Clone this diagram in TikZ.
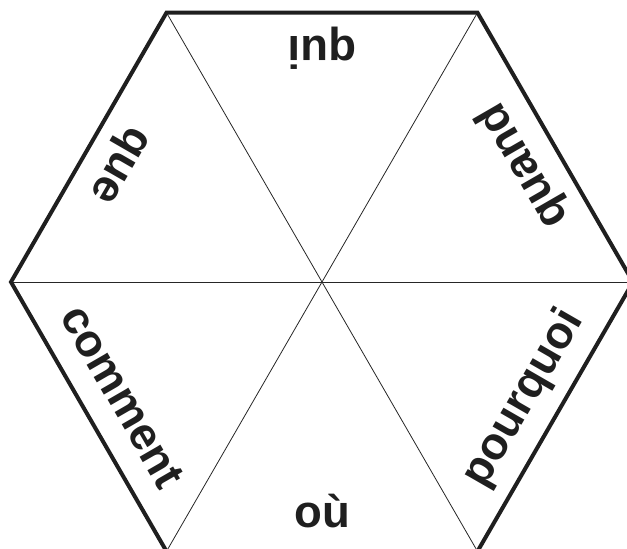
\documentclass[tikz,border=0pt]{standalone}
\usepackage{fontspec}
\setmainfont{Liberation Sans}
\usepackage{tikz}

\begin{document}
\begin{tikzpicture}[x=1pt, y=1pt,
  rim/.style={line width=4pt, black!88, line join=miter},
  spoke/.style={line width=0.8pt, black!85},
  word/.style={font=\bfseries\fontsize{45.5}{45.5}\selectfont, text=black!88,
               anchor=base, inner sep=0pt}
]
  \clip (-322,-267) rectangle (305,282);

  \coordinate (O)    at (0,0);
  \coordinate (P0)   at (0:311);
  \coordinate (P60)  at (60:311);
  \coordinate (P120) at (120:311);
  \coordinate (P180) at (180:311);
  \coordinate (P240) at (240:311);
  \coordinate (P300) at (300:311);

  \draw[spoke] (O) -- (P0);
  \draw[spoke] (O) -- (P60);
  \draw[spoke] (O) -- (P120);
  \draw[spoke] (O) -- (P180);
  \draw[spoke] (O) -- (P240);
  \draw[spoke] (O) -- (P300);

  \draw[rim] (P0) -- (P60) -- (P120) -- (P180) -- (P240) -- (P300) -- cycle;

  \node[word, rotate=180] (qui)      at (90:245)  {qui};
  \node[word, rotate=120] (quand)    at (30:245)  {quand};
  \node[word, rotate=60]  (pourquoi) at (-30:245) {pourquoi};
  \node[word]             (ou)       at (-90:245) {où};
  \node[word, rotate=-60] (comment)  at (210:245) {comment};
  \node[word, rotate=240] (que)      at (150:245) {que};
\end{tikzpicture}
\end{document}
